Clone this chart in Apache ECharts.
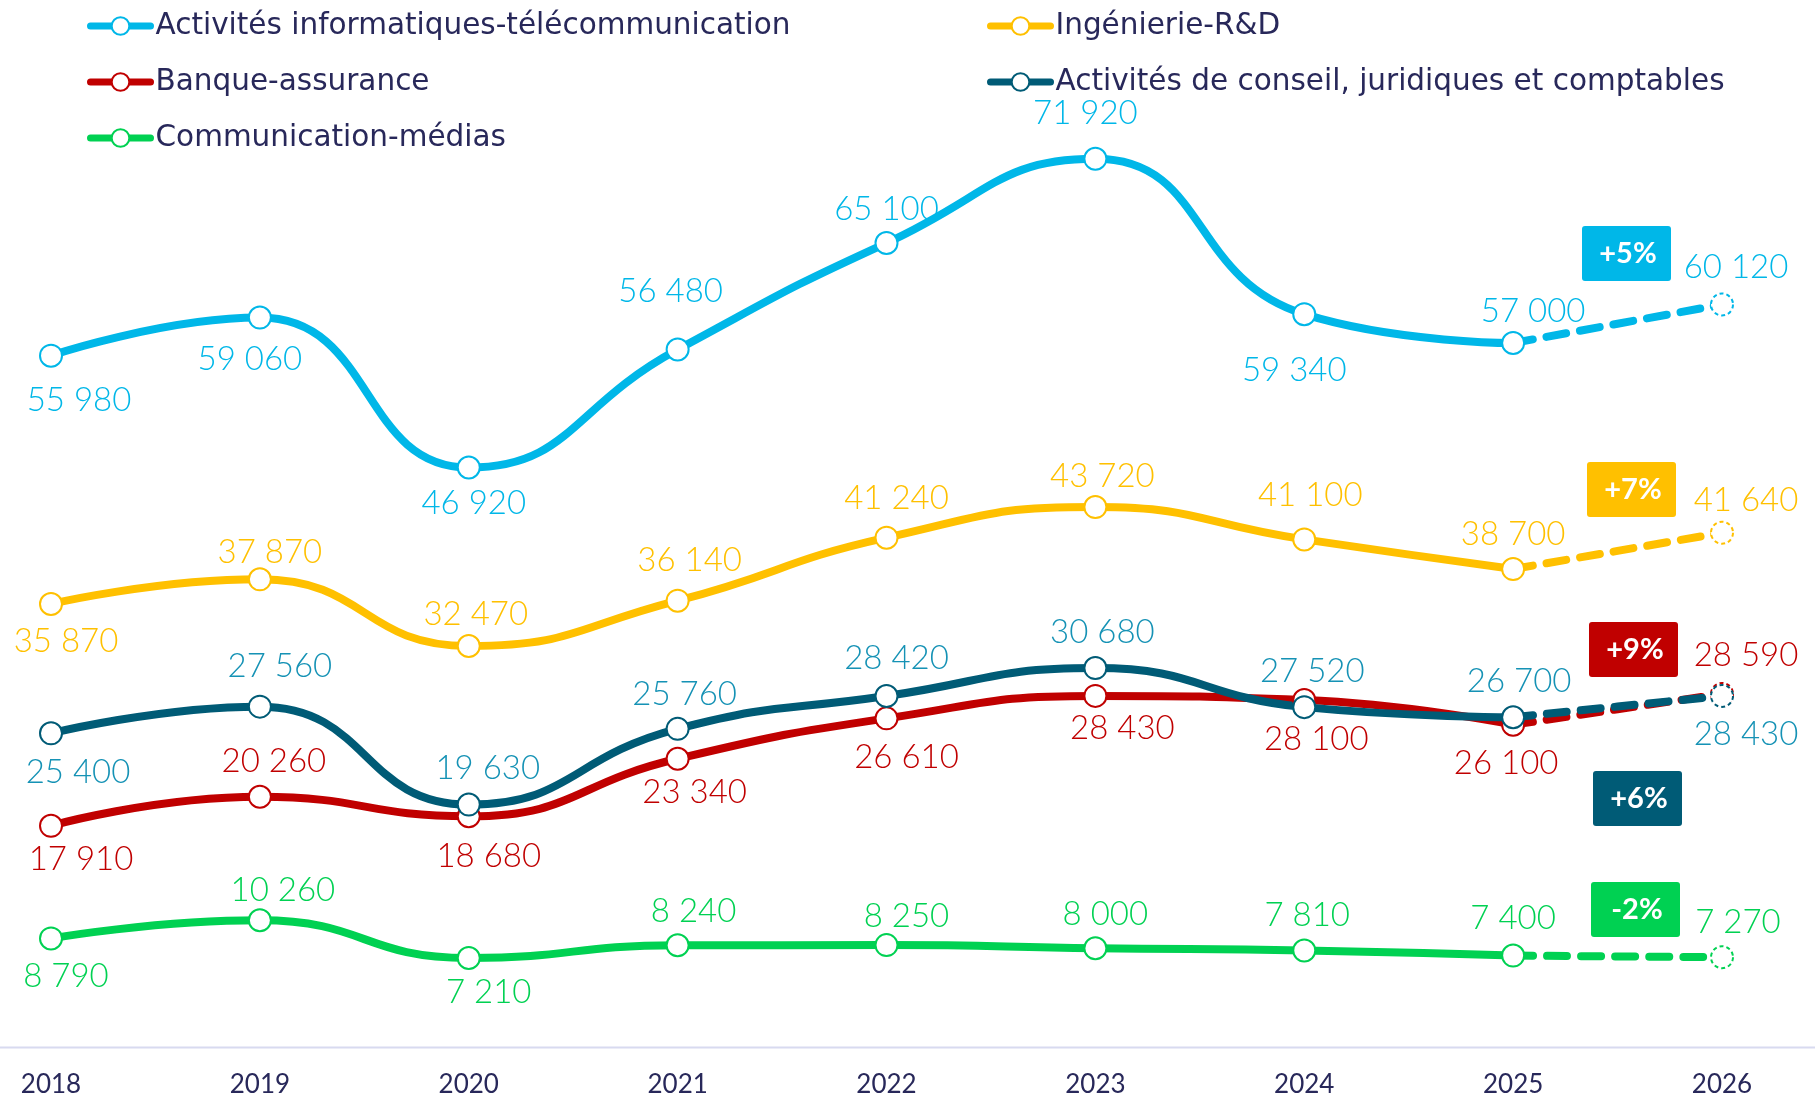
<!DOCTYPE html>
<html>
<head>
<meta charset="utf-8">
<script src="https://cdn.jsdelivr.net/npm/echarts@6/dist/echarts.min.js"></script>
<style>
  html, body { margin: 0; padding: 0; background: #fff; }
  #main { width: 1815px; height: 1098px; }
</style>
</head>
<body>
<div id="main"></div>
<script>
// années (la dernière = projection, en pointillés)
var years = ['2018', '2019', '2020', '2021', '2022', '2023', '2024', '2025', '2026'];

var informatique = [55980, 59060, 46920, 56480, 65100, 71920, 59340, 57000, 60120];
var banque = [17910, 20260, 18680, 23340, 26610, 28430, 28100, 26100, 28590];
var communication = [8790, 10260, 7210, 8240, 8250, 8000, 7810, 7400, 7270];
var ingenierie = [35870, 37870, 32470, 36140, 41240, 43720, 41100, 38700, 41640];
var conseil = [25400, 27560, 19630, 25760, 28420, 30680, 27520, 26700, 28430];

var badgeTexts = ['+5%', '+7%', '+9%', '+6%', '-2%'];

// décalages des étiquettes (px) par rapport au point
var offInfo = [[28, 45], [-10, 42], [5, 36], [-7, -58], [0, -34], [-10, -45], [-10, 56], [20, -32], [14, -37]];
var offBanque = [[30, 34], [14, -35], [20, 40], [17, 34], [20, 39], [27, 32], [12, 39], [-7, 39], [24, -39]];
var offComm = [[15, 38], [23, -30], [20, 34], [16, -34], [20, -29], [10, -34], [3, -35], [0, -37], [16, -35]];
var offInge = [[15, 37], [10, -27], [7, -32], [12, -40], [10, -39], [7, -31], [6, -44], [0, -35], [24, -32]];
var offConseil = [[27, 39], [20, -40], [19, -36], [7, -35], [10, -38], [7, -36], [8, -36], [6, -36], [24, 38]];

var FONT = 'Lato, "Open Sans", sans-serif';
var TEXT = '#28285a';

function fmt(v) {
  return String(v).replace(/\B(?=(\d{3})+(?!\d))/g, ' ');
}

function makeSeries(name, values, offsets, color, labelColor) {
  var last = values.length - 1;
  var solid = values.map(function (v, i) {
    if (i === last) return null;
    return { value: v, label: { offset: offsets[i] } };
  });
  var dashed = values.map(function (v, i) {
    if (i === last) return { value: v, label: { show: true, offset: offsets[i] } };
    if (i === last - 1) return { value: v, symbol: 'none', label: { show: false } };
    return null;
  });
  var common = {
    name: name,
    type: 'line',
    smooth: 0.5,
    symbol: 'emptyCircle',
    symbolSize: 22,
    showAllSymbol: true,
    clip: false,
    itemStyle: { color: color, borderColor: color, borderWidth: 2.5 },
    label: {
      show: true,
      position: 'inside',
      color: labelColor,
      fontFamily: FONT,
      fontSize: 33,
      fontWeight: 300,
      formatter: function (p) { return fmt(p.value); }
    },
    emphasis: { disabled: true }
  };
  var a = Object.assign({}, common, {
    data: solid,
    lineStyle: { color: color, width: 8, cap: 'round' }
  });
  var b = Object.assign({}, common, {
    data: dashed,
    connectNulls: false,
    itemStyle: { color: color, borderColor: color, borderWidth: 2, borderType: [4, 3] },
    lineStyle: { color: color, width: 8, type: [20, 14], cap: 'round' }
  });
  return [a, b];
}

var C_INFO = '#00b7e8', C_BANQUE = '#c00000', C_COMM = '#00d152', C_INGE = '#ffc000', C_CONSEIL = '#005b76';

var series = [].concat(
  makeSeries('Activités informatiques-télécommunication', informatique, offInfo, C_INFO, C_INFO),
  makeSeries('Banque-assurance', banque, offBanque, C_BANQUE, C_BANQUE),
  makeSeries('Communication-médias', communication, offComm, C_COMM, C_COMM),
  makeSeries('Ingénierie-R&D', ingenierie, offInge, C_INGE, C_INGE),
  makeSeries('Activités de conseil, juridiques et comptables', conseil, offConseil, C_CONSEIL, '#1592b5')
);

var legendCommon = {
  orient: 'vertical',
  itemWidth: 60,
  itemHeight: 22,
  itemGap: 26,
  selectedMode: false,
  lineStyle: { width: 7 },
  itemStyle: { borderWidth: 2 },
  textStyle: { color: TEXT, fontFamily: '"DejaVu Sans", sans-serif', fontSize: 29.5, lineHeight: 30 }
};

var badgeColors = [C_INFO, C_INGE, C_BANQUE, C_CONSEIL, C_COMM];
var badgeBoxes = [[1582, 226], [1587, 462], [1589, 622], [1593, 771], [1591, 882]];
var badges = badgeTexts.map(function (t, i) {
  return {
    type: 'group',
    x: badgeBoxes[i][0],
    y: badgeBoxes[i][1],
    children: [
      { type: 'rect', shape: { x: 0, y: 0, width: 89, height: 55, r: 3 }, style: { fill: badgeColors[i] } },
      { type: 'text', x: 46, y: 28, style: { text: t, fill: '#fff', font: 'bold 29px ' + FONT, textAlign: 'center', textVerticalAlign: 'middle' } }
    ]
  };
});

var chart = echarts.init(document.getElementById('main'));
chart.setOption({
  backgroundColor: '#fff',
  animation: false,
  legend: [
    Object.assign({}, legendCommon, {
      left: 82, top: 6,
      data: ['Activités informatiques-télécommunication', 'Banque-assurance', 'Communication-médias']
    }),
    Object.assign({}, legendCommon, {
      left: 982, top: 6,
      data: ['Ingénierie-R&D', 'Activités de conseil, juridiques et comptables']
    })
  ],
  grid: { left: 51, right: 93, top: 59, bottom: 50.4 },
  xAxis: {
    type: 'category',
    data: years,
    boundaryGap: false,
    axisLine: { show: false },
    axisTick: { show: false },
    axisLabel: { color: TEXT, fontFamily: FONT, fontSize: 26, margin: 25 }
  },
  yAxis: {
    type: 'value',
    min: 0,
    max: 80000,
    show: false,
    splitLine: { show: false }
  },
  graphic: [
    { type: 'line', shape: { x1: 0, y1: 1047.6, x2: 1815, y2: 1047.6 }, style: { stroke: '#d8daf0', lineWidth: 2 }, z: 0 }
  ].concat(badges),
  series: series
});
</script>
</body>
</html>
